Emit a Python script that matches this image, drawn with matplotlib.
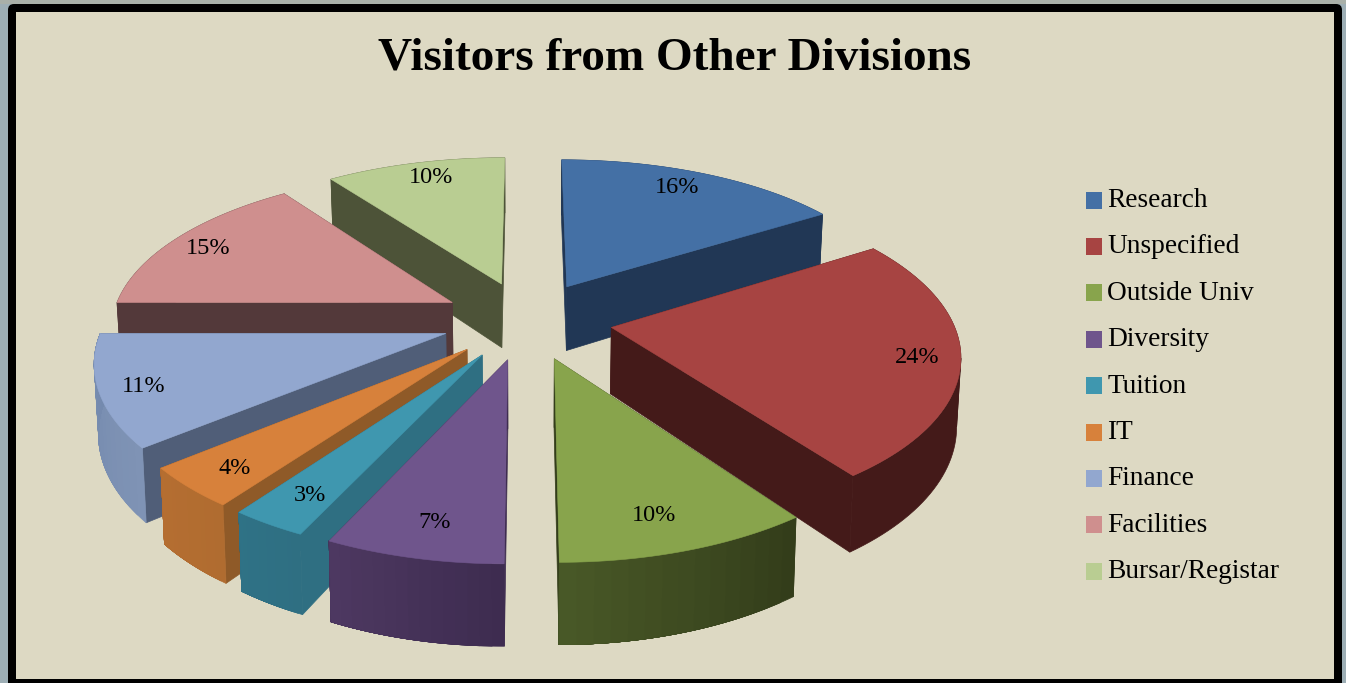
import numpy as np
import matplotlib
matplotlib.use('Agg')
import matplotlib.pyplot as plt
from matplotlib.colors import to_rgb
from matplotlib.patches import FancyBboxPatch, Patch, Polygon, Rectangle

title = 'Visitors from Other Divisions'
labels = ['Research', 'Unspecified', 'Outside Univ', 'Diversity', 'Tuition',
          'IT', 'Finance', 'Facilities', 'Bursar/Registar']
shares = [16, 24, 10, 7, 3, 4, 11, 15, 10]

top_colors = ['#4470A5', '#A74442', '#88A44C', '#6F558C', '#3F97AF',
              '#D7813B', '#92A7CF', '#CF8F8E', '#B9CD92']
side_colors = ['#213755', '#441A19', '#333D1A', '#3E2C50', '#2F6F82',
               '#8F5A28', '#505E78', '#53393A', '#4D5338']
# arc wall shading, start of the slice -> end of the slice
arc_start = ['#213755', '#441A19', '#333D1A', '#3E2C50', '#2F6F82',
             '#B06C30', '#7F93B5', '#53393A', '#4D5338']
arc_end = ['#213755', '#441A19', '#4A5A28', '#4E3962', '#2F7286',
           '#B56E31', '#7389AD', '#53393A', '#4D5338']

# pixel layout of the 3d pie
cx, cy = 527, 320
rx, ry = 341, 157
persp_x, persp_y = 0.15, 0.16
depth = 66
shrink = 0.01
explode = 0.25
label_r = 0.83
# label offsets in pixels, excel does not place them on a clean radius
nudge_x = [-5, 17, -7, 3, 1, -6, -17, -13, 3]
nudge_y = [-3, 5, 3, 3, 4, 7, 5, 0, -4]


def project(x, y, z=0.0):
    wx = 1 + persp_x * np.asarray(y)
    wy = 1 + persp_y * np.asarray(y)
    sx = cx + rx * np.asarray(x) / (wx * (1 + shrink * z))
    sy = cy - ry * np.asarray(y) / wy + depth * z / wy
    return sx, sy


def ground(mid, ang, r):
    # clockwise angle from the top, shifted along the slice middle
    x = explode * np.sin(mid) + r * np.sin(ang)
    y = explode * np.cos(mid) + r * np.cos(ang)
    return x, y


def wall(ax, xs, ys, color, zo):
    # top edge there, bottom edge back. split where the arc turns back in x,
    # a single polygon would fold over itself and leave a hole
    tx, ty = project(xs, ys)
    bx, by = project(xs, ys, 1.0)
    d = np.sign(np.diff(tx))
    cuts = list(np.where(d[1:] != d[:-1])[0] + 1)
    bounds = [0] + cuts + [len(tx) - 1]
    for s, e in zip(bounds[:-1], bounds[1:]):
        pts = np.column_stack([np.r_[tx[s:e + 1], bx[s:e + 1][::-1]],
                               np.r_[ty[s:e + 1], by[s:e + 1][::-1]]])
        ax.add_patch(Polygon(pts, closed=True, fc=color, ec=color, lw=0.5, zorder=zo))


fig = plt.figure(figsize=(13.46, 6.83), dpi=100, facecolor='#9DAEB5')
ax = fig.add_axes([0, 0, 1, 1])
ax.set_xlim(0, 1346)
ax.set_ylim(683, 0)
ax.axis('off')

# frame
ax.add_patch(Rectangle((0, 0), 1346, 4, fc='#A9B0A9', ec='none', zorder=0))
ax.add_patch(FancyBboxPatch((12, 8), 1326, 690, boxstyle='round,pad=4,rounding_size=6',
                            fc='black', ec='none', zorder=1))
ax.add_patch(Rectangle((16, 12), 1318, 667, fc='#DDD9C3', ec='none', zorder=2))

edges = np.radians(np.cumsum([0] + shares) * 3.6)
mids = (edges[:-1] + edges[1:]) / 2

# far slices first
order = np.argsort(-np.cos(mids))
for rank, i in enumerate(order):
    zo = 10 + rank
    a0, a1, mid = edges[i], edges[i + 1], mids[i]
    ang = np.linspace(a0, a1, 61)
    ax_x, ax_y = ground(mid, ang, 1.0)
    ox, oy = ground(mid, mid, 0.0)

    # radial walls
    wall(ax, np.r_[ox, ax_x[0]], np.r_[oy, ax_y[0]], side_colors[i], zo)
    wall(ax, np.r_[ox, ax_x[-1]], np.r_[oy, ax_y[-1]], side_colors[i], zo)

    # outer wall, painted over itself from the start so no seams show
    c0, c1 = np.array(to_rgb(arc_start[i])), np.array(to_rgb(arc_end[i]))
    steps = range(0, 60, 4) if arc_start[i] != arc_end[i] else [0]
    for k in steps:
        wall(ax, ax_x[k:], ax_y[k:], c0 + (c1 - c0) * k / 60, zo)

    # top face
    sx, sy = project(np.r_[ox, ax_x], np.r_[oy, ax_y])
    ax.add_patch(Polygon(np.column_stack([sx, sy]), closed=True, fc=top_colors[i],
                         ec=top_colors[i], lw=0.4, zorder=zo + 0.5))

    lx, ly = ground(mid, mid, label_r)
    tx, ty = project(lx, ly)
    ax.text(tx + nudge_x[i], ty + nudge_y[i], f'{shares[i]}%', ha='center', va='center',
            fontsize=17.5, family='Liberation Serif', color='black', zorder=40)

ax.text(675, 58, title, ha='center', va='center', fontsize=34, fontweight='bold',
        family='Liberation Serif', color='black', zorder=40)

handles = [Patch(fc=c, ec='none', label=n) for c, n in zip(top_colors, labels)]
leg = ax.legend(handles=handles, loc='upper left', bbox_to_anchor=(1086, 188),
                bbox_transform=ax.transData, frameon=False, borderpad=0, borderaxespad=0,
                handlelength=0.585, handleheight=0.585, handletextpad=0.2, labelspacing=0.782,
                prop={'family': 'Liberation Serif', 'size': 19.7})
leg.set_zorder(40)
# squares sit a little lower than the text centre
for p in leg.get_patches():
    p.set_y(p.get_y() - 2)

fig.savefig('out.png', dpi=100, facecolor=fig.get_facecolor())
